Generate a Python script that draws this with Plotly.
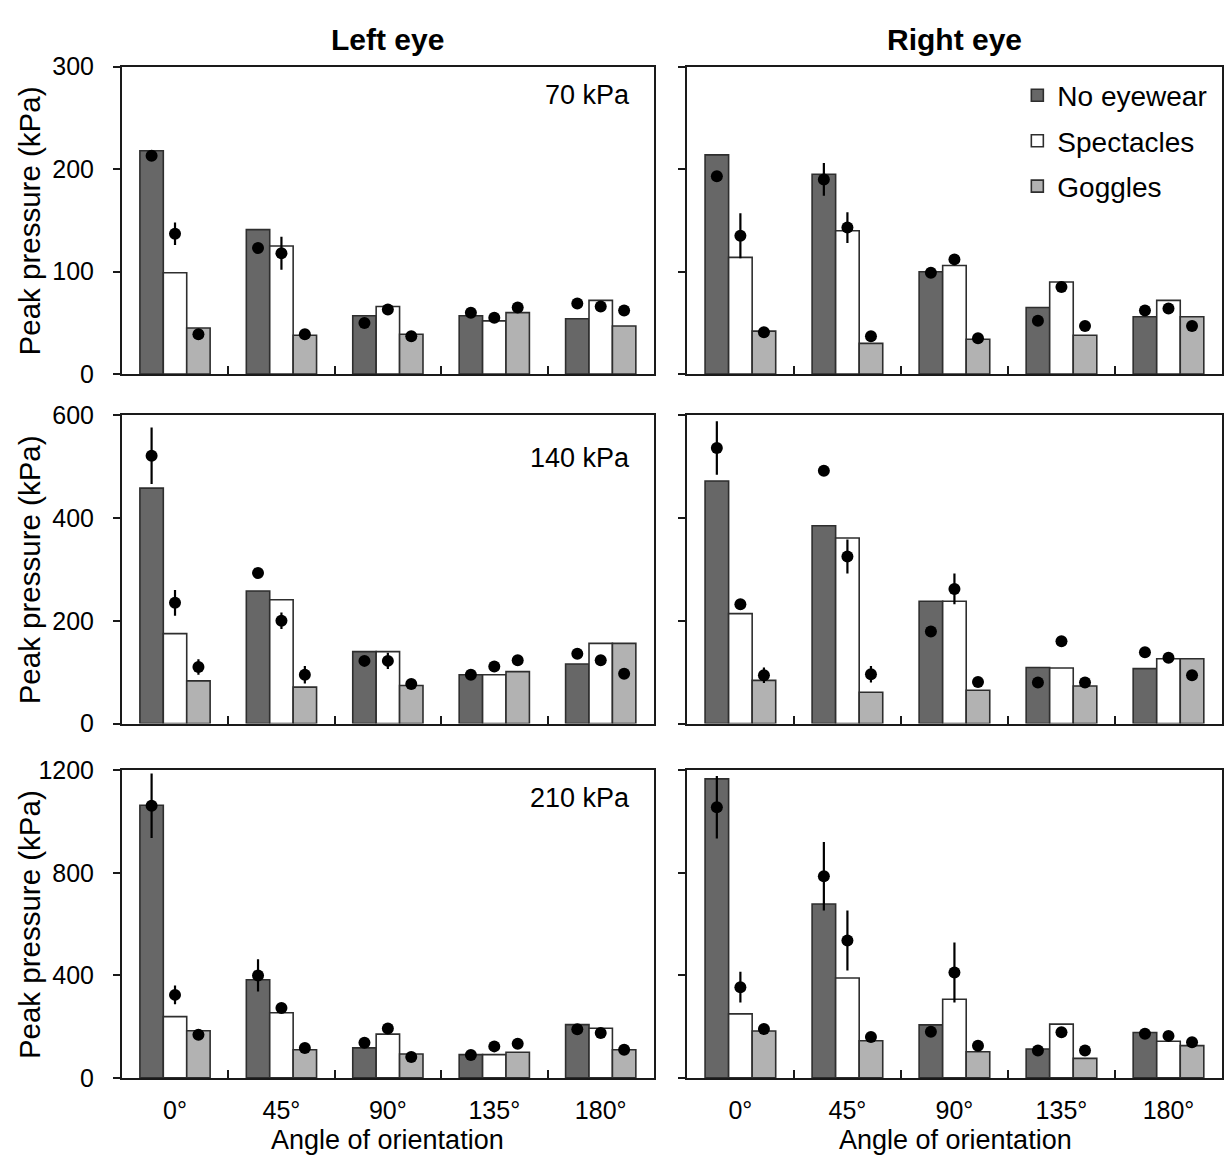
import plotly.graph_objects as go

# ---------------- data ----------------
angles = ["0°", "45°", "90°", "135°", "180°"]
series_names = ["No eyewear", "Spectacles", "Goggles"]

# 70 kPa, left eye
l70_none = [218, 141, 57, 57, 54]
l70_spec = [99, 125, 66, 52, 72]
l70_gog = [45, 38, 39, 60, 47]
l70_pt_none = [213, 123, 50, 60, 69]
l70_pt_spec = [137, 118, 63, 55, 66]
l70_pt_gog = [39, 39, 37, 65, 62]
l70_err_none = [5, 5, 0, 0, 0]
l70_err_spec = [11, 16, 0, 0, 0]
l70_err_gog = [0, 0, 0, 0, 0]

# 70 kPa, right eye
r70_none = [214, 195, 100, 65, 56]
r70_spec = [114, 140, 106, 90, 72]
r70_gog = [42, 30, 34, 38, 56]
r70_pt_none = [193, 190, 99, 52, 62]
r70_pt_spec = [135, 143, 112, 85, 64]
r70_pt_gog = [41, 37, 35, 47, 47]
r70_err_none = [0, 16, 0, 0, 0]
r70_err_spec = [22, 15, 0, 0, 0]
r70_err_gog = [0, 0, 0, 0, 0]

# 140 kPa, left eye
l140_none = [458, 258, 140, 95, 116]
l140_spec = [175, 241, 140, 95, 156]
l140_gog = [83, 71, 74, 101, 156]
l140_pt_none = [521, 293, 122, 95, 136]
l140_pt_spec = [235, 200, 122, 111, 123]
l140_pt_gog = [110, 95, 77, 123, 97]
l140_err_none = [55, 0, 0, 0, 0]
l140_err_spec = [25, 16, 16, 0, 0]
l140_err_gog = [15, 17, 5, 0, 0]

# 140 kPa, right eye
r140_none = [472, 385, 238, 109, 107]
r140_spec = [214, 361, 238, 108, 126]
r140_gog = [84, 61, 65, 73, 126]
r140_pt_none = [536, 492, 179, 80, 139]
r140_pt_spec = [232, 325, 262, 160, 128]
r140_pt_gog = [94, 96, 81, 80, 94]
r140_err_none = [52, 0, 0, 0, 0]
r140_err_spec = [0, 33, 30, 0, 0]
r140_err_gog = [15, 16, 0, 0, 0]

# 210 kPa, left eye
l210_none = [1064, 383, 117, 91, 208]
l210_spec = [239, 254, 171, 91, 194]
l210_gog = [184, 110, 93, 100, 110]
l210_pt_none = [1062, 400, 137, 89, 190]
l210_pt_spec = [324, 273, 193, 123, 175]
l210_pt_gog = [168, 117, 82, 133, 110]
l210_err_none = [126, 63, 0, 0, 0]
l210_err_spec = [37, 0, 0, 0, 0]
l210_err_gog = [0, 0, 0, 0, 0]

# 210 kPa, right eye
r210_none = [1167, 679, 207, 113, 177]
r210_spec = [250, 390, 307, 210, 143]
r210_gog = [183, 145, 102, 76, 126]
r210_pt_none = [1056, 787, 180, 107, 172]
r210_pt_spec = [354, 536, 411, 178, 164]
r210_pt_gog = [191, 160, 125, 107, 139]
r210_err_none = [122, 134, 20, 0, 0]
r210_err_spec = [60, 117, 117, 0, 0]
r210_err_gog = [0, 0, 0, 0, 0]

panel_labels = ["70 kPa", "140 kPa", "210 kPa"]
y_max = [300, 600, 1200]
y_ticks = [[0, 100, 200, 300], [0, 200, 400, 600], [0, 400, 800, 1200]]

panels = [
    # (row, col, bars, points, errors)
    (0, 0, [l70_none, l70_spec, l70_gog], [l70_pt_none, l70_pt_spec, l70_pt_gog], [l70_err_none, l70_err_spec, l70_err_gog]),
    (0, 1, [r70_none, r70_spec, r70_gog], [r70_pt_none, r70_pt_spec, r70_pt_gog], [r70_err_none, r70_err_spec, r70_err_gog]),
    (1, 0, [l140_none, l140_spec, l140_gog], [l140_pt_none, l140_pt_spec, l140_pt_gog], [l140_err_none, l140_err_spec, l140_err_gog]),
    (1, 1, [r140_none, r140_spec, r140_gog], [r140_pt_none, r140_pt_spec, r140_pt_gog], [r140_err_none, r140_err_spec, r140_err_gog]),
    (2, 0, [l210_none, l210_spec, l210_gog], [l210_pt_none, l210_pt_spec, l210_pt_gog], [l210_err_none, l210_err_spec, l210_err_gog]),
    (2, 1, [r210_none, r210_spec, r210_gog], [r210_pt_none, r210_pt_spec, r210_pt_gog], [r210_err_none, r210_err_spec, r210_err_gog]),
]

# ---------------- style ----------------
W, H = 1224, 1169
FONT = "Liberation Sans, Arial, Helvetica, sans-serif"
bar_colors = ["#676767", "#ffffff", "#b2b2b2"]
edge = "#2e2e2e"
axis_col = "#1a1a1a"

col_dom = [[122 / W, 655 / W], [688 / W, 1.0]]
row_px = [(54, 369), (411, 727), (775, 1090)]
row_dom = [[1 - b / H, 1 - t / H] for (t, b) in row_px]

fig = go.Figure()
layout = dict(
    width=W, height=H,
    margin=dict(l=0, r=0, t=0, b=0),
    paper_bgcolor="white", plot_bgcolor="white",
    font=dict(family=FONT, color="black"),
    barmode="group", bargap=0.34, bargroupgap=0,
    scattermode="group", scattergap=0.34,
    showlegend=True,
    legend=dict(
        x=1019 / W, y=1 - 58 / H, xanchor="left", yanchor="top",
        font=dict(size=28, family=FONT, color="black"),
        bgcolor="rgba(0,0,0,0)", tracegroupgap=6,
        itemclick=False,
    ),
)

for p, (r, c, bars, pts, errs) in enumerate(panels):
    xa = "x" if p == 0 else f"x{p+1}"
    ya = "y" if p == 0 else f"y{p+1}"
    for k in range(3):
        fig.add_trace(go.Bar(
            x=angles, y=bars[k], name=series_names[k],
            xaxis=xa, yaxis=ya, offsetgroup=str(k), legendgroup=series_names[k],
            showlegend=(p == 1),
            marker=dict(color=bar_colors[k], line=dict(color=edge, width=1.6)),
        ))
    for k in range(3):
        fig.add_trace(go.Scatter(
            x=angles, y=pts[k], mode="markers",
            xaxis=xa, yaxis=ya, offsetgroup=str(k), showlegend=False,
            marker=dict(color="black", size=12),
            error_y=dict(type="data", array=errs[k], visible=True,
                         color="black", thickness=2.2, width=0),
        ))
    xkey = "xaxis" if p == 0 else f"xaxis{p+1}"
    ykey = "yaxis" if p == 0 else f"yaxis{p+1}"
    layout[xkey] = dict(
        domain=col_dom[c], anchor=ya, type="category",
        categoryarray=angles, categoryorder="array", range=[-0.5, 4.5],
        showline=True, mirror=True, linecolor=axis_col, linewidth=1.6,
        showgrid=False, zeroline=False,
        ticks="inside", tickson="boundaries", ticklen=8, tickwidth=1.6, tickcolor=axis_col,
        showticklabels=(r == 2), tickfont=dict(size=25, family=FONT, color="black"),
        ticklabelstandoff=9, fixedrange=True,
    )
    layout[ykey] = dict(
        domain=row_dom[r], anchor=xa, range=[0, y_max[r]],
        tickmode="array", tickvals=y_ticks[r],
        showline=True, mirror=True, linecolor=axis_col, linewidth=1.6,
        showgrid=False, zeroline=False,
        ticks="outside", ticklen=7, tickwidth=1.6, tickcolor=axis_col,
        showticklabels=(c == 0), tickfont=dict(size=25, family=FONT, color="black"),
        ticklabelstandoff=14, fixedrange=True,
    )

ann = []
# column titles
ann.append(dict(text="<b>Left eye</b>", x=388 / W, y=1 - 26 / H, xref="paper", yref="paper",
                xanchor="center", yanchor="middle", showarrow=False, font=dict(size=30)))
ann.append(dict(text="<b>Right eye</b>", x=956 / W, y=1 - 26 / H, xref="paper", yref="paper",
                xanchor="center", yanchor="middle", showarrow=False, font=dict(size=30)))
# x titles
for cx in (388, 957):
    ann.append(dict(text="Angle of orientation", x=cx / W, y=1 - 1154 / H, xref="paper", yref="paper",
                    xanchor="center", yanchor="middle", showarrow=False, font=dict(size=27)))
# y titles and panel labels
label_y = [83, 455, 803]
for r in range(3):
    t, b = row_px[r]
    ann.append(dict(text="Peak pressure (kPa)", x=29 / W, y=1 - (t + b) / 2 / H, xref="paper", yref="paper",
                    xanchor="center", yanchor="middle", textangle=-90, showarrow=False, font=dict(size=29.5)))
    ann.append(dict(text=panel_labels[r], x=633 / W, y=1 - label_y[r] / H, xref="paper", yref="paper",
                    xanchor="right", yanchor="middle", showarrow=False, font=dict(size=27)))
layout["annotations"] = ann

fig.update_layout(**layout)
fig.write_html("out.html")
